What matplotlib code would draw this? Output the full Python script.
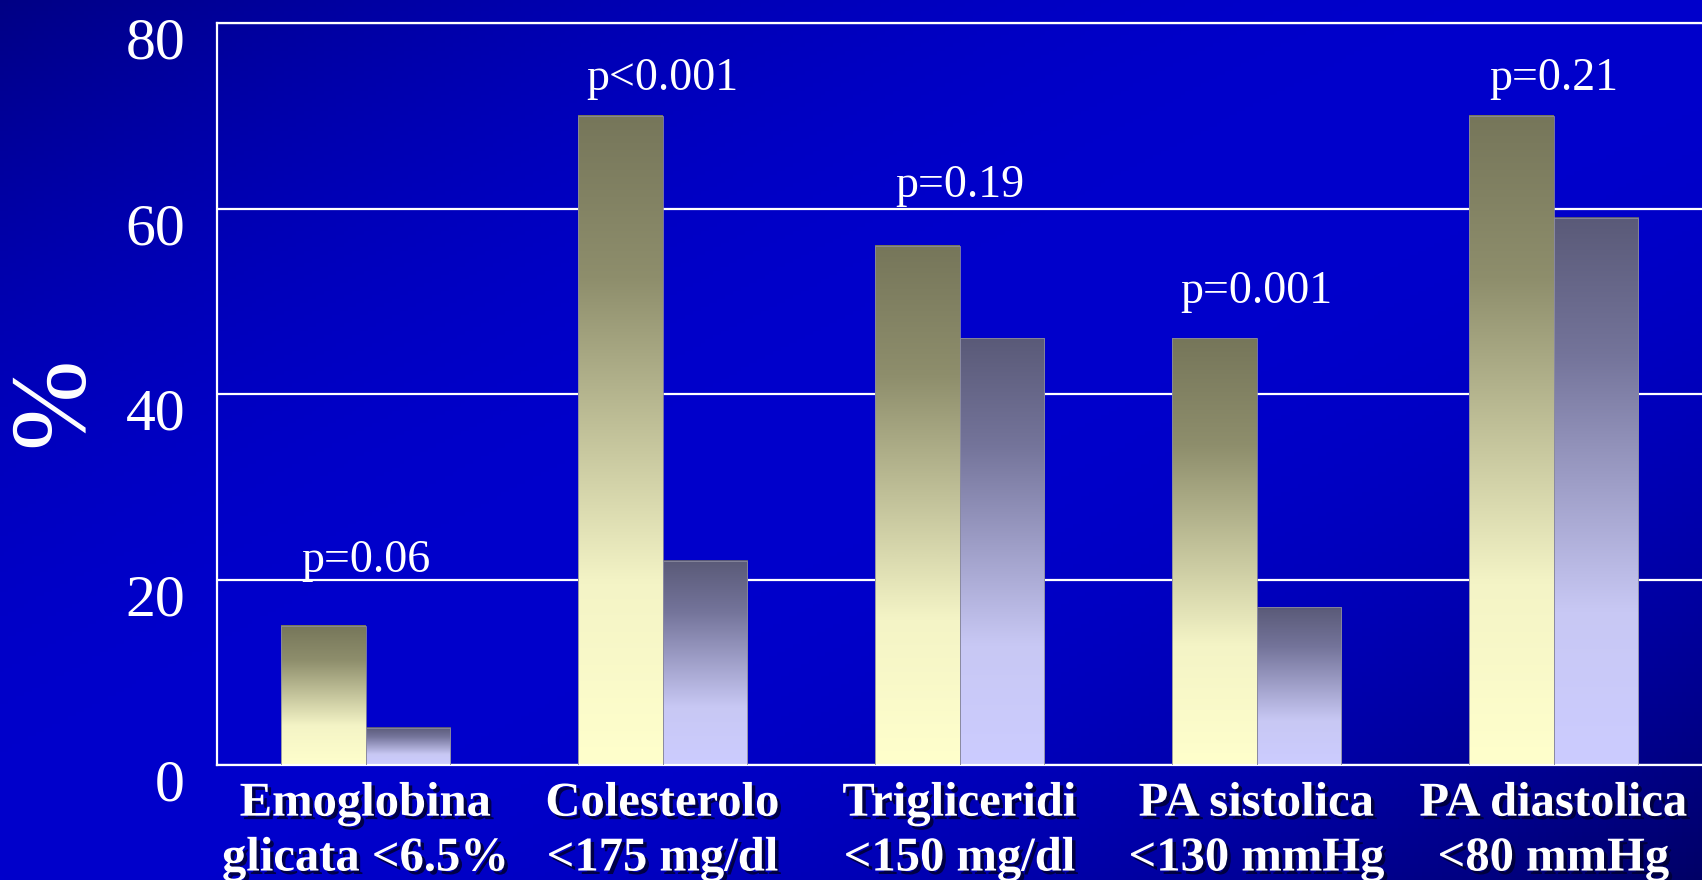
import numpy as np
import matplotlib
matplotlib.use("Agg")
import matplotlib.pyplot as plt
import matplotlib.transforms as mtransforms
import matplotlib.patheffects as pe
from matplotlib.colors import LinearSegmentedColormap

# --- data -------------------------------------------------------------
categories = [
    "Emoglobina\nglicata <6.5%",
    "Colesterolo\n<175 mg/dl",
    "Trigliceridi\n<150 mg/dl",
    "PA sistolica\n<130 mmHg",
    "PA diastolica\n<80 mmHg",
]
group_a = [15, 70, 56, 46, 70]
group_b = [4, 22, 46, 17, 59]
p_values = ["p=0.06", "p<0.001", "p=0.19", "p=0.001", "p=0.21"]
y_ticks = [0, 20, 40, 60, 80]

# --- layout / style ---------------------------------------------------
p_label_heights = [20.8, 72.8, 61.2, 49.8, 72.8]
bar_w = 0.285
serif = ["Liberation Serif", "DejaVu Serif"]
plt.rcParams["font.family"] = serif

W, H, DPI = 17.02, 8.80, 100
fig = plt.figure(figsize=(W, H), dpi=DPI)

# slide-style blue background: bright along the anti-diagonal, darker corners
bg = fig.add_axes([0, 0, 1, 1], zorder=-10)
bg.set_axis_off()
ny, nx = 220, 425
yy, xx = np.mgrid[0:1:ny * 1j, 0:1:nx * 1j]
t = (xx + yy) / 2.0
f = np.clip(np.abs(t - 0.5) * 2.0, 0, 1)
f = f ** 2.2
bright = np.array([0.0, 0.0, 0.80])
dark_tl = np.array([0.0, 0.0, 0.52])
dark_br = np.array([0.0, 0.0, 0.40])
dark = np.where((t < 0.5)[..., None], dark_tl, dark_br)
img = bright * (1 - f[..., None]) + dark * f[..., None]
bg.imshow(img, extent=(0, 1, 0, 1), aspect="auto", origin="upper")
bg.set_xlim(0, 1)
bg.set_ylim(0, 1)

ax = fig.add_axes([217 / 1702, 1 - 765 / 880, 1 - 217 / 1702, (765 - 23) / 880])
ax.set_facecolor("none")

x = np.arange(len(categories))

cmap_a = LinearSegmentedColormap.from_list(
    "olive_cream", [(0.0, "#76765a"), (0.25, "#8e8e6c"), (0.72, "#f4f4c6"), (1.0, "#ffffcc")])
cmap_b = LinearSegmentedColormap.from_list(
    "slate_lavender", [(0.0, "#5a5a78"), (0.25, "#74749a"), (0.72, "#c8c8f4"), (1.0, "#ccccff")])

# dark at the top of each bar, light at its base
grad = np.linspace(0, 1, 256).reshape(-1, 1)

bars_a = ax.bar(x - bar_w / 2, group_a, bar_w, facecolor="none", edgecolor="none", zorder=3)
bars_b = ax.bar(x + bar_w / 2, group_b, bar_w, facecolor="none", edgecolor="none", zorder=3)

for bars, cmap in ((bars_a, cmap_a), (bars_b, cmap_b)):
    for b in bars:
        x0, w, h = b.get_x(), b.get_width(), b.get_height()
        ax.imshow(grad, cmap=cmap, extent=(x0, x0 + w, 0, h), origin="upper",
                  aspect="auto", zorder=2.5, interpolation="bicubic")
        b.set_edgecolor("#8a8aa0")
        b.set_linewidth(0.6)

ax.set_xlim(-0.5, len(categories) - 0.5)
ax.set_ylim(0, 80)

# grid and frame
ax.set_yticks(y_ticks)
ax.yaxis.grid(True, color="white", linewidth=1.6, zorder=1)
ax.set_axisbelow(True)
for side in ("left", "top", "bottom"):
    ax.spines[side].set_color("white")
    ax.spines[side].set_linewidth(1.6)
ax.spines["right"].set_visible(False)

ax.tick_params(axis="both", length=0, colors="white")
ax.tick_params(axis="y", pad=23)
ax.set_yticklabels([str(v) for v in y_ticks], color="white", fontsize=43)
shift = mtransforms.ScaledTranslation(0, -15 / DPI, fig.dpi_scale_trans)
for lbl in ax.get_yticklabels():
    lbl.set_transform(lbl.get_transform() + shift)

ax.set_xticks(x)
ax.set_xticklabels(categories, fontsize=35, fontweight="bold", color="white",
                   linespacing=1.32)
ax.tick_params(axis="x", pad=12)
for lbl in ax.get_xticklabels():
    lbl.set_path_effects([pe.withSimplePatchShadow(offset=(2.5, -2.5),
                                                   shadow_rgbFace="#000033", alpha=0.85)])

ax.set_ylabel("%", fontsize=78, color="white", va="center")
ax.yaxis.set_label_coords(-0.108, 0.49)

for xi, txt, hy in zip(x, p_values, p_label_heights):
    ax.text(xi, hy, txt, ha="center", va="baseline", color="white", fontsize=33, zorder=4)

fig.savefig("out.png", dpi=DPI)
